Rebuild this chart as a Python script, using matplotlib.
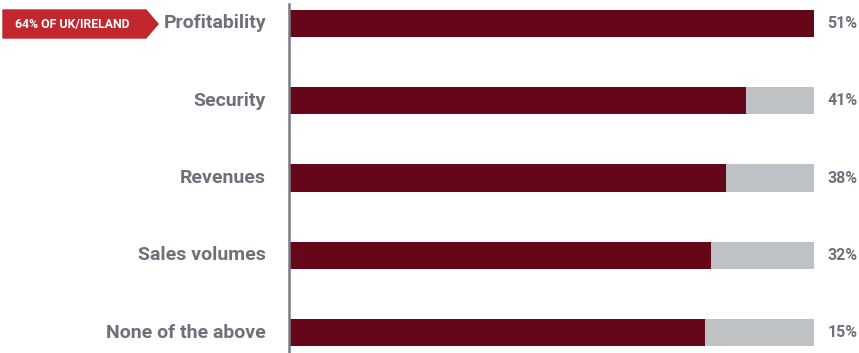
import matplotlib.pyplot as plt
from matplotlib.patches import Polygon

categories = ["Profitability", "Security", "Revenues", "Sales volumes", "None of the above"]
pct_labels = [51, 41, 38, 32, 15]
# bar fill as a share of the full track (%)
bar_share = [100, 87, 83.2, 80.4, 79.2]
track = [100, 100, 100, 100, 100]
tag_text = "64% OF UK/IRELAND"

dark = "#650719"
light = "#bfc2c5"
grey_txt = "#6e717a"
tag_red = "#c1272d"

W, H = 859, 353
fig = plt.figure(figsize=(W / 100, H / 100), dpi=100)
ax = fig.add_axes([289 / W, 0, 525 / W, 1])

pos = list(range(len(categories)))
ax.barh(pos, track, height=0.35, color=light, left=0)
ax.barh(pos, bar_share, height=0.35, color=dark, left=0)

ax.set_xlim(0, 100)
ax.set_ylim(4.265, -0.304)
ax.axis("off")

# vertical axis line
fig.add_artist(plt.Line2D([288.5 / W, 288.5 / W], [0, 1 - 4 / H],
                          color="#7a7c85", lw=1.8))

for i, (cat, p) in enumerate(zip(categories, pct_labels)):
    ax.text(-4.4, i, cat, ha="right", va="center", fontsize=14,
            fontweight="bold", color=grey_txt, family="Roboto")
    ax.text(102.6, i, f"{p}%", ha="left", va="center", fontsize=11.5,
            fontweight="bold", color=grey_txt, family="Roboto")

# red arrow tag next to the first category
tag = Polygon([(3 / W, 1 - 10 / H), (146 / W, 1 - 10 / H), (158 / W, 1 - 24 / H),
               (146 / W, 1 - 38 / H), (3 / W, 1 - 38 / H)],
              closed=True, transform=fig.transFigure, color=tag_red)
fig.add_artist(tag)
fig.text(72 / W, 1 - 24.5 / H, tag_text, ha="center", va="center", color="white",
         fontsize=8.8, fontweight="bold", family="Roboto")

fig.savefig("out.png", dpi=100)
